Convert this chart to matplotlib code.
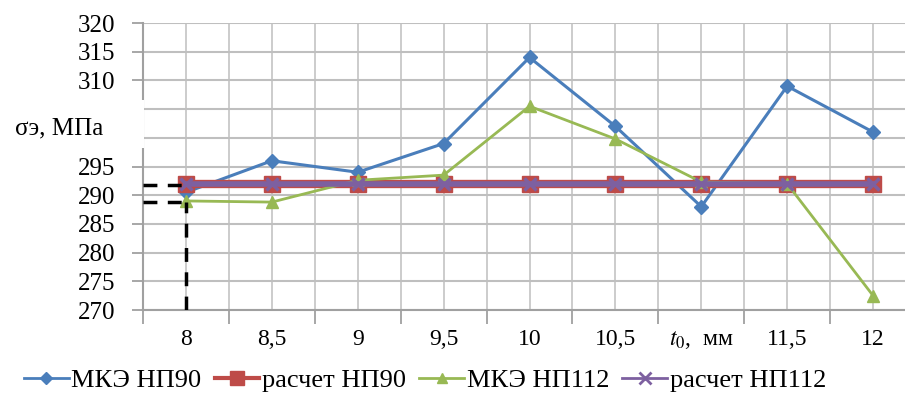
import numpy as np
import matplotlib
matplotlib.use('Agg')
import matplotlib.pyplot as plt
from matplotlib.patches import Rectangle
from matplotlib.lines import Line2D

plt.rcParams['font.family'] = ['Liberation Serif', 'DejaVu Serif']
plt.rcParams['mathtext.fontset'] = 'stix'

# данные
x_labels = ['8', '8,5', '9', '9,5', '10', '10,5', r'$t_0$,  мм', '11,5', '12']
mke_np90 = [290.5, 296, 294, 299, 314, 302, 288, 309, 301]
raschet_np90 = [292, 292, 292, 292, 292, 292, 292, 292, 292]
mke_np112 = [289, 288.8, 292.6, 293.5, 305.5, 299.8, 292.3, 292, 272.5]
raschet_np112 = [292, 292, 292, 292, 292, 292, 292, 292, 292]
y_ticks = [270, 275, 280, 285, 290, 295, 300, 305, 310, 315, 320]
y_labels = ['270', '275', '280', '285', '290', '295', '', '', '310', '315', '320']

c_blue, c_red, c_green, c_purple = '#4A7EBB', '#BE4B48', '#98B954', '#7D60A0'

fig = plt.figure(figsize=(9.05, 3.97), dpi=100)
ax = fig.add_axes([143 / 905, 87 / 397, 773 / 905, 287 / 397])

x = np.arange(len(x_labels))

ax.plot(x, mke_np90, color=c_blue, lw=2.2, marker='D', ms=7, zorder=3)
ax.plot(x, raschet_np90, color=c_red, lw=6, marker='s', ms=11, zorder=4)
ax.plot(x, mke_np112, color=c_green, lw=2, marker='^', ms=8, zorder=5)
ax.plot(x, raschet_np112, color=c_purple, lw=4, marker='x', ms=9, mew=2.5, zorder=6)

# пунктир
ax.plot([0, 0], [270, 288.9], color='black', lw=2.5, ls=(0, (4, 3)), zorder=7)
ax.plot([-0.5, 0], [288.9, 288.9], color='black', lw=2.5, ls=(0, (4, 3)), zorder=7)
ax.plot([-0.5, 0], [291.8, 291.8], color='black', lw=2.5, ls=(0, (4, 3)), zorder=7)

ax.set_xlim(-0.5, 8.5)
ax.set_ylim(270, 320)
ax.set_yticks(y_ticks)
ax.set_yticklabels(y_labels)
ax.set_xticks(x)
ax.set_xticklabels(x_labels)
ax.set_xticks(np.arange(-0.5, 8.5, 1), minor=True)

ax.tick_params(axis='x', which='major', length=0, pad=14, labelsize=17)
ax.tick_params(axis='x', which='minor', length=10, width=1.3, color='#A0A0A0')
ax.tick_params(axis='y', length=8, width=1.3, color='#A0A0A0', pad=12, labelsize=18)

ax.grid(True, which='both', axis='x', color='#C8C8C8', lw=1.3)
ax.grid(True, which='major', axis='y', color='#BFBFBF', lw=1.5)
ax.set_axisbelow(True)

for s in ['top', 'right']:
    ax.spines[s].set_visible(False)
for s in ['left', 'bottom']:
    ax.spines[s].set_color('#A0A0A0')
    ax.spines[s].set_linewidth(1.5)

# подпись оси Y поверх оси
fig.patches.append(Rectangle((0, 1 - 148 / 397), 143.5 / 905, 48 / 397,
                             transform=fig.transFigure, facecolor='white',
                             edgecolor='none', zorder=10))
fig.text(15 / 905, 1 - 128 / 397, 'σэ, МПа', fontsize=18, va='center',
         ha='left', zorder=11)

handles = [
    Line2D([], [], color=c_blue, lw=2, marker='D', ms=6),
    Line2D([], [], color=c_red, lw=3, marker='s', ms=10),
    Line2D([], [], color=c_green, lw=2, marker='^', ms=7),
    Line2D([], [], color=c_purple, lw=2, marker='x', ms=8, mew=2),
]
labels = ['МКЭ НП90', 'расчет НП90', 'МКЭ НП112', 'расчет НП112']
fig.legend(handles, labels, loc='center', bbox_to_anchor=(425 / 905, 17 / 397),
           ncol=4, frameon=False, fontsize=19, handlelength=1.7,
           handletextpad=0.1, columnspacing=0.5, borderaxespad=0)

plt.savefig('out.png', dpi=100)
